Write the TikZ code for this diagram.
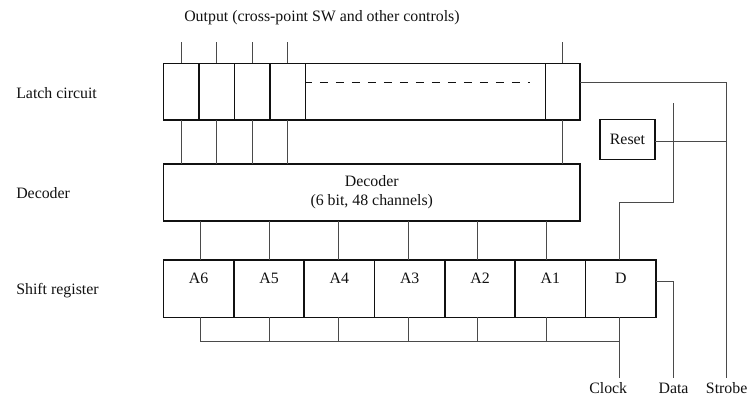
\documentclass[tikz,border=0pt]{standalone}
\usepackage{fontspec}
\setmainfont{Liberation Serif}
\usetikzlibrary{positioning}
\definecolor{ink}     {HTML}{111111}
\definecolor{wiregray}{HTML}{4A4A4A}

\tikzset{
  blk/.style={draw=ink, line width=1.15pt, outer sep=0pt, inner sep=0pt},
  wire/.style={draw=wiregray, line width=0.6pt},
  lbl/.style={text=ink, inner sep=0pt, font=\fontsize{11.9}{14}\selectfont},
}

\begin{document}
\begin{tikzpicture}[x=0.75pt, y=-0.75pt]
    \useasboundingbox (0,0) rectangle (747,399);

    % latch row
    \node[blk, minimum width=26.63pt, minimum height=42.5pt] (lc1) at (181.25,91.65) {};
    \foreach \i [count=\p from 1] in {2,3,4}
      {\node[blk, minimum width=26.63pt, minimum height=42.5pt, right=0pt of lc\p] (lc\i) {};}
    \node[blk, minimum width=180.15pt, minimum height=42.5pt, right=0pt of lc4] (lmid) {};
    \node[blk, minimum width=25.72pt, minimum height=42.5pt, right=0pt of lmid] (lc5) {};
    \draw[ink, line width=1.15pt, dash pattern=on 6.2pt off 5.8pt, dash phase=1.2pt]
      (lmid.west |- 0,82.7) -- (530,82.7);

    % decoder
    \node[blk, lbl, minimum width=312.4pt, minimum height=42.75pt, align=center]
      (dec) at (371.75,192.5) {Decoder\\(6 bit, 48 channels)};

    % shift register
    \foreach \name [count=\i] in {A6,A5,A4,A3,A2,A1,D}
      {\pgfmathsetmacro{\cx}{198.67+(\i-1)*70.35}
       \node[blk, minimum width=52.76pt, minimum height=43pt,
             label={[lbl, anchor=base, yshift=-17.5pt]north:\name}]
         (sr\i) at (\cx,288.65) {};}

    \node[blk, lbl, minimum width=41.25pt, minimum height=30pt] (rst) at (627.5,139.3) {Reset};

    % free ends
    \coordinate (outtop) at (0,42);
    \coordinate (bus)    at (0,341.7);
    \coordinate (clkend) at (619,378);
    \coordinate (datend) at (673.3,378);
    \coordinate (strend) at (726.7,378);
    \coordinate (dtop)   at (673.3,103.3);

    % outputs and latch to decoder
    \foreach \c in {lc1,lc2,lc3,lc4,lc5}
      {\draw[wire] (\c.north) -- (\c.north |- outtop);
       \draw[wire] (\c.south) -- (\c.south |- dec.north);}

    % decoder to register, register to clock bus
    \foreach \i in {1,...,6}
      {\pgfmathsetmacro{\lx}{200+(\i-1)*69.35}
       \draw[wire] (\lx,0 |- dec.south) -- (\lx,0 |- sr\i.north);
       \draw[wire] (\lx,0 |- sr\i.south) -- (\lx,0 |- bus);}
    \draw[wire] (200,0 |- bus) -- (clkend |- bus);
    \draw[wire] (clkend |- sr7.south) -- (clkend);

    \draw[wire] (clkend |- sr7.north) |- (dtop |- 0,202) -- (dtop);
    \draw[wire] (sr7.east |- 0,281) -| (datend);
    \draw[wire] (lc5.east |- 0,82.3) -| (strend);
    \draw[wire] (rst.east |- 0,141.7) -- (strend |- 0,141.7);

    % texts
    \node[lbl, anchor=base west] (outlbl)   at (184,21.7)   {Output (cross-point SW and other controls)};
    \node[lbl, anchor=base west] (latchlbl) at (16,98.3)    {Latch circuit};
    \node[lbl, anchor=base west] (declbl)   at (16,198.3)   {Decoder};
    \node[lbl, anchor=base west] (srlbl)    at (16,294.3)   {Shift register};
    \node[lbl, anchor=base west] (clklbl)   at (589,393.3)  {Clock};
    \node[lbl, anchor=base west] (datlbl)   at (658.3,393.3){Data};
    \node[lbl, anchor=base west] (strlbl)   at (705.7,393.3){Strobe};
\end{tikzpicture}
\end{document}
